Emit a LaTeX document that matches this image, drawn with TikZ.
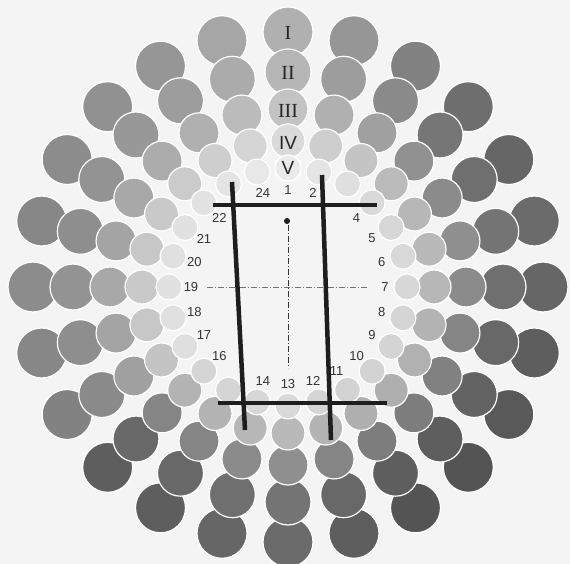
\documentclass[tikz,border=0pt]{standalone}
\usepackage{fontspec}
\setmainfont{Liberation Serif}
\setsansfont{Liberation Sans}
\usepackage{tikz}
\definecolor{paper}{gray}{0.955}
\definecolor{ink}{HTML}{1E1E1E}

\begin{document}
\begin{tikzpicture}[x=1pt, y=1pt,
    disc/.style={fill=black!#1, draw=white, line width=1.2pt},
    hue/.style={font=\sffamily\fontsize{13}{13}\selectfont, text=black!80},
    grade/.style={font=\fontsize{20}{20}\selectfont, text=black!85},
    gradesf/.style={font=\sffamily\fontsize{19}{19}\selectfont, text=black!85},
    bar/.style={line width=4.5pt, color=ink},
    axis/.style={line width=0.8pt, color=black!55, dash pattern=on 6pt off 2pt on 1pt off 2pt}]
    \fill[paper] (-288,-277) rectangle (282,287);
    \useasboundingbox (-288,-277) rectangle (282,287);

    % rings I (outside) to V (inside), one disc per hue
    \foreach \rad/\cr/\fac in {255/25/1, 215/23/0.94, 178/20/0.76, 146/17/0.47, 119/13/0.26}
      \foreach \k/\dk in {1/31, 2/41, 3/49, 4/57, 5/60, 6/58, 7/60, 8/63, 9/65, 10/67, 11/67, 12/63,
                          13/58, 14/60, 15/63, 16/63, 17/49, 18/47, 19/45, 20/47, 21/45, 22/43, 23/41, 24/35}
      {
        \pgfmathsetmacro\sh{\dk*\fac}
        \filldraw[disc=\sh] ({90-(\k-1)*15}:\rad) circle (\cr);
      }

    \foreach \k in {1,2,4,5,6,7,8,9,10,11,12,13,14,16,17,18,19,20,21,22,24}
      \node[hue] (n\k) at ({90-(\k-1)*15}:97) {\k};

    \node[grade] (r1) at (0,254) {I};
    \node[grade] (r2) at (0,214) {II};
    \node[grade] (r3) at (0,176) {III};
    \node[gradesf] (r4) at (0,144) {IV};
    \node[gradesf] (r5) at (0,119) {V};

    \coordinate (west) at (-81,0);
    \coordinate (east) at (79,0);
    \coordinate (top) at (0,62);
    \coordinate (foot) at (0,-81);
    \draw[axis] (west) -- (east);
    \draw[axis, color=black!80] (top) -- (foot);
    \fill[ink] (-1,66) circle (3);

    \coordinate (tl) at (-75,82);
    \coordinate (tr) at (89,82);
    \coordinate (bl) at (-70,-116);
    \coordinate (br) at (99,-116);
    \coordinate (lt) at (-56,105);
    \coordinate (lb) at (-43,-143);
    \coordinate (rt) at (34,112);
    \coordinate (rb) at (43,-153);
    \draw[bar] (tl) -- (tr);
    \draw[bar] (bl) -- (br);
    \draw[bar] (lt) -- (lb);
    \draw[bar] (rt) -- (rb);
\end{tikzpicture}
\end{document}
